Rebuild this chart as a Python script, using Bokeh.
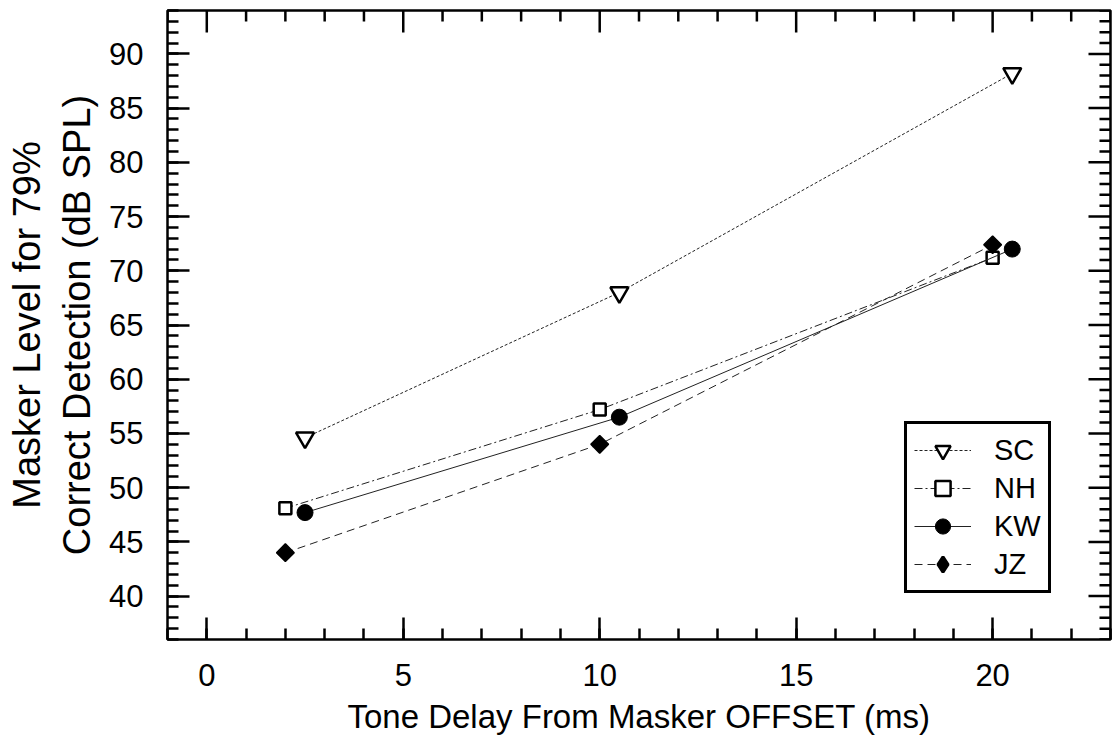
import math
from bokeh.plotting import figure
from bokeh.models import (LinearAxis, SingleIntervalTicker, Range1d, Legend, LegendItem,
                          ColumnDataSource)
from bokeh.embed import file_html
from bokeh.resources import INLINE

# Tone delay (ms) and masker level at 79% correct detection (dB SPL), per listener
sc_delay = [2.5, 10.5, 20.5]
sc_level = [54.6, 68.0, 88.2]
nh_delay = [2.0, 10.0, 20.0]
nh_level = [48.1, 57.2, 71.2]
kw_delay = [2.5, 10.5, 20.5]
kw_level = [47.7, 56.5, 72.0]
jz_delay = [2.0, 10.0, 20.0]
jz_level = [44.0, 54.0, 72.4]

X_LO, X_HI = -1, 23
Y_LO, Y_HI = 36, 94
FONT = "Liberation Sans"

p = figure(width=1115, height=739, x_range=Range1d(X_LO, X_HI), y_range=Range1d(Y_LO, Y_HI),
           output_backend="svg", toolbar_location=None,
           x_axis_type=None, y_axis_type=None,
           min_border_left=167, min_border_right=5, min_border_top=10, min_border_bottom=100)
p.background_fill_color = "white"
p.border_fill_color = "white"
p.outline_line_color = "black"
p.outline_line_width = 2.5


def make_axis(label, label_size):
    ax = LinearAxis(ticker=SingleIntervalTicker(interval=5, num_minor_ticks=5))
    ax.axis_line_color = None
    ax.major_tick_in = 22
    ax.major_tick_out = 0
    ax.minor_tick_in = 11
    ax.minor_tick_out = 0
    ax.major_tick_line_width = 2.5
    ax.minor_tick_line_width = 2.5
    ax.major_tick_line_color = "black"
    ax.minor_tick_line_color = "black"
    ax.major_label_text_font = FONT
    ax.major_label_text_font_size = "31px"
    ax.major_label_text_color = "black"
    ax.axis_label = label
    ax.axis_label_text_font = FONT
    ax.axis_label_text_font_size = label_size
    ax.axis_label_text_font_style = "normal"
    ax.axis_label_text_color = "black"
    return ax


xb = make_axis("Tone Delay From Masker OFFSET (ms)", "33px")
xb.major_label_standoff = 24
xb.axis_label_standoff = 9
yl = make_axis("Masker Level for 79%\nCorrect Detection (dB SPL)", "38px")
yl.major_label_standoff = 24
yl.axis_label_standoff = 8
p.add_layout(xb, "below")
p.add_layout(yl, "left")

# mirrored inward ticks along the top and right edges of the frame
top_ticks = list(range(X_LO, X_HI + 1))
right_ticks = list(range(Y_LO, Y_HI + 1))
p.ray(x=top_ticks, y=[Y_HI] * len(top_ticks), angle=-math.pi / 2,
      length=[22 if t % 5 == 0 else 11 for t in top_ticks], length_units="screen",
      line_color="black", line_width=2.5)
p.ray(x=[X_HI] * len(right_ticks), y=right_ticks, angle=math.pi,
      length=[22 if t % 5 == 0 else 11 for t in right_ticks], length_units="screen",
      line_color="black", line_width=2.5)

series = [
    ("SC", sc_delay, sc_level, "inverted_triangle", 18, 0, 2.5, "3 2", "white", None),
    ("NH", nh_delay, nh_level, "square", 12, 0, 2.5, "8 3 2 3", "white", None),
    ("KW", kw_delay, kw_level, "circle", 16, 0, 1, "solid", "black", None),
    ("JZ", jz_delay, jz_level, "square", 12.5, math.pi / 4, 1.5, "8 5", "black", "diamond"),
]

items = []
for name, xs, ys, marker, size, angle, lw, dash, fill, key_marker in series:
    src = ColumnDataSource(dict(x=xs, y=ys))
    ln = p.line("x", "y", source=src, line_color="#222222", line_width=1, line_dash=dash)
    sc = p.scatter("x", "y", source=src, marker=marker, size=size, angle=angle,
                   line_color="black", line_width=lw, fill_color=fill)
    key = [ln, sc]
    if key_marker:
        # legend keys are never rotated, so this entry gets a key-only marker
        # whose single point is undefined and therefore never plotted
        key_src = ColumnDataSource(dict(x=[float("nan")], y=[float("nan")]))
        kr = p.scatter("x", "y", source=key_src, marker=key_marker, size=size,
                       line_color="black", line_width=3, fill_color=fill)
        key = [ln, kr]
    items.append(LegendItem(label=name, renderers=key))

legend = Legend(items=items, location=(737, 46))
legend.border_line_color = "black"
legend.border_line_width = 3
legend.border_line_alpha = 1.0
legend.background_fill_alpha = 0
legend.label_text_font = FONT
legend.label_text_font_size = "29px"
legend.label_text_color = "black"
legend.glyph_width = 57
legend.glyph_height = 38
legend.label_height = 38
legend.label_standoff = 23
legend.padding = 7
legend.spacing = 0
legend.margin = 0
p.add_layout(legend)

open("out.html", "w").write(file_html(p, INLINE))
